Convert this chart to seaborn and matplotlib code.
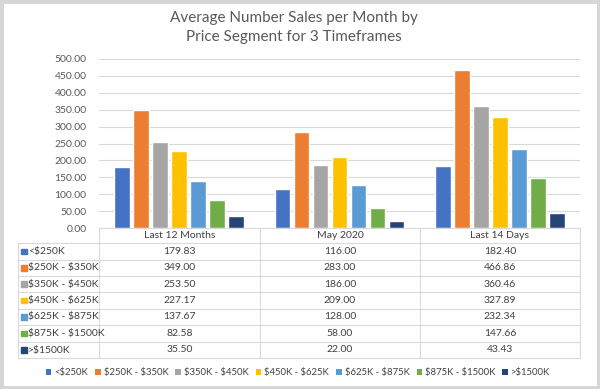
import numpy as np
import pandas as pd
import matplotlib
matplotlib.use("Agg")
import matplotlib.pyplot as plt
from matplotlib.patches import Rectangle, Patch
from matplotlib.lines import Line2D
import seaborn as sns

timeframes = ["Last 12 Months", "May 2020", "Last 14 Days"]
segments = ["<$250K", "$250K - $350K", "$350K - $450K", "$450K - $625K",
            "$625K - $875K", "$875K - $1500K", ">$1500K"]
lt250 = [179.83, 116.00, 182.40]
s250_350 = [349.00, 283.00, 466.86]
s350_450 = [253.50, 186.00, 360.46]
s450_625 = [227.17, 209.00, 327.89]
s625_875 = [137.67, 128.00, 232.34]
s875_1500 = [82.58, 58.00, 147.66]
gt1500 = [35.50, 22.00, 43.43]
series = [lt250, s250_350, s350_450, s450_625, s625_875, s875_1500, gt1500]
colors = ["#4472C4", "#ED7D31", "#A5A5A5", "#FFC000", "#5B9BD5", "#70AD47", "#264478"]

rows = []
for seg, vals in zip(segments, series):
    for tf, v in zip(timeframes, vals):
        rows.append({"Timeframe": tf, "Segment": seg, "Value": v})
df = pd.DataFrame(rows)

sns.set_style("white")
plt.rcParams['font.family'] = ['Lato', 'DejaVu Sans']
plt.rcParams['text.parse_math'] = False

W, H = 600, 389
fig = plt.figure(figsize=(6, 3.89), dpi=100)

def fx(px):
    return px / W

def fy(py):
    return 1 - py / H

x0, x1 = 99, 580
y_top, y_zero = 59, 228
ax = fig.add_axes([fx(x0), fy(y_zero), fx(x1) - fx(x0), fy(y_top) - fy(y_zero)])
sns.barplot(data=df, x="Timeframe", y="Value", hue="Segment", order=timeframes,
            hue_order=segments, palette=colors, width=0.83, gap=0.17,
            saturation=1, legend=False, ax=ax)
ax.set_ylim(0, 500)
ax.set_xlim(-0.5, 2.5)
ax.set_yticks(np.arange(0, 501, 50))
ax.set_yticklabels([f"{v:.2f}" for v in np.arange(0, 501, 50)], fontsize=7.5, color="#595959")
ax.set_xticks([])
ax.set_xlabel("")
ax.set_ylabel("")
ax.grid(axis="y", color="#d9d9d9", linewidth=0.8)
ax.set_axisbelow(True)
for s in ["top", "right", "left"]:
    ax.spines[s].set_visible(False)
ax.spines["bottom"].set_color("#d9d9d9")
ax.tick_params(axis="y", length=0, pad=9)

# title
fig.text(fx(294), fy(18), "Average Number Sales per Month by", ha="center", va="center",
         fontsize=11, color="#595959")
fig.text(fx(294), fy(37), "Price Segment for 3 Timeframes", ha="center", va="center",
         fontsize=11, color="#595959")

# data table
line_c = "#d9d9d9"
txt_c = "#404040"
col_edges = [99, 260, 420, 580]
row_lines = [243.3, 259.7, 276, 292.3, 308.7, 325, 341.7, 358.3]
for cx in col_edges:
    fig.add_artist(Line2D([fx(cx), fx(cx)], [fy(228), fy(358.3)], color=line_c, lw=0.8))
fig.add_artist(Line2D([fx(18), fx(18)], [fy(243.3), fy(358.3)], color=line_c, lw=0.8))
for ry in row_lines:
    fig.add_artist(Line2D([fx(18), fx(580)], [fy(ry), fy(ry)], color=line_c, lw=0.8))
centers = [(col_edges[i] + col_edges[i + 1]) / 2 for i in range(3)]
for c, tf in zip(centers, timeframes):
    fig.text(fx(c), fy(235.7), tf, ha="center", va="center", fontsize=7.5, color=txt_c)
for i, (seg, vals, col) in enumerate(zip(segments, series, colors)):
    yc = (row_lines[i] + row_lines[i + 1]) / 2
    fig.patches.append(Rectangle((fx(21), fy(yc + 2.8)), fx(5.5), 5.5 / H, color=col,
                                 transform=fig.transFigure, figure=fig))
    fig.text(fx(28), fy(yc), seg, ha="left", va="center", fontsize=7.5, color=txt_c)
    for c, v in zip(centers, vals):
        fig.text(fx(c), fy(yc), f"{v:.2f}", ha="center", va="center", fontsize=7.5, color=txt_c)

# legend
handles = [Patch(facecolor=c, edgecolor="none") for c in colors]
fig.legend(handles, segments, loc="center", bbox_to_anchor=(fx(298), fy(373)), ncol=7,
           frameon=False, fontsize=6.8, handlelength=0.6, handleheight=0.6,
           handletextpad=0.3, columnspacing=0.75, labelcolor=txt_c)

# outer frame
fig.patches.append(Rectangle((0, 0), 1, 1, fill=False, edgecolor="#d6d6d6", lw=5,
                             transform=fig.transFigure, figure=fig))

fig.savefig("out.png", dpi=100)
